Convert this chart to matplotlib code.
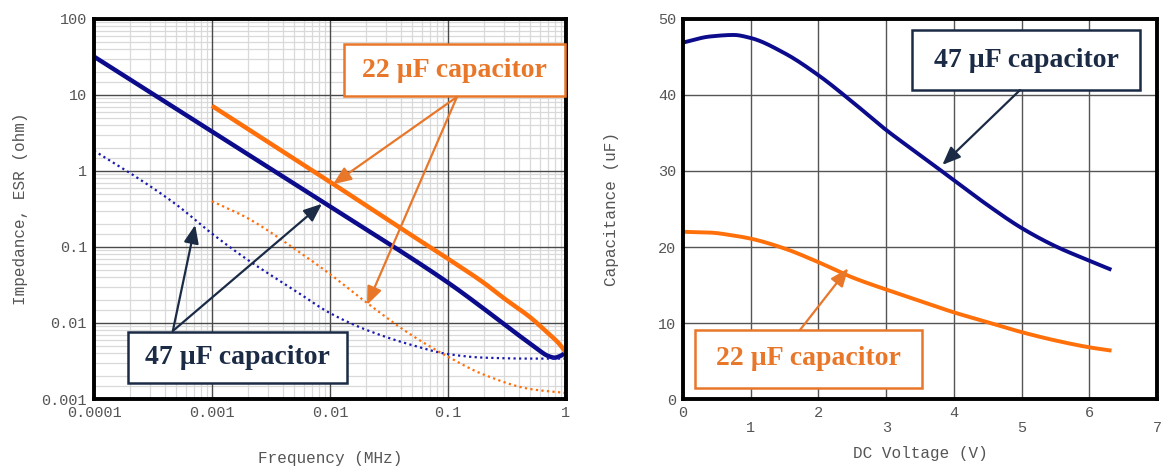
import matplotlib.pyplot as plt
from matplotlib.patches import Rectangle
from matplotlib.ticker import FixedLocator, NullFormatter
import numpy as np

# impedance / ESR vs frequency (MHz)
f_z47 = [0.0001, 0.001, 0.01, 0.1, 0.2, 0.24, 0.35, 0.5, 0.6, 0.7, 0.8, 0.9, 1.0]
z47 = [32, 3.3, 0.34, 0.034, 0.0155, 0.0125, 0.0080, 0.0053, 0.0043, 0.0037, 0.0035, 0.0037, 0.0041]

f_esr47 = [0.0001, 0.0002, 0.0005, 0.001, 0.002, 0.005, 0.01, 0.02, 0.05, 0.1, 0.2, 0.5, 1.0]
esr47 = [1.85, 0.95, 0.36, 0.15, 0.068, 0.027, 0.0135, 0.0082, 0.0051, 0.0039, 0.0035, 0.0034, 0.0034]

f_z22 = [0.001, 0.01, 0.04, 0.1, 0.2, 0.3, 0.5, 0.7, 0.85, 1.0]
z22 = [7.2, 0.72, 0.175, 0.07, 0.034, 0.021, 0.0118, 0.0074, 0.0056, 0.0041]

f_esr22 = [0.001, 0.002, 0.005, 0.01, 0.02, 0.05, 0.1, 0.2, 0.5, 1.0]
esr22 = [0.40, 0.24, 0.095, 0.044, 0.019, 0.0068, 0.0036, 0.0021, 0.00135, 0.0012]

# capacitance vs DC bias
volts = [0, 0.4, 0.75, 1, 1.5, 2, 2.5, 3, 3.5, 4, 4.5, 5, 5.5, 6, 6.3]
cap47 = [46.9, 47.7, 47.9, 47.5, 45.5, 42.6, 39.1, 35.4, 32.1, 28.8, 25.5, 22.5, 20.1, 18.2, 17.1]
cap22 = [22.0, 21.9, 21.5, 21.1, 19.8, 18.0, 16.0, 14.4, 12.9, 11.4, 10.1, 8.8, 7.7, 6.8, 6.4]

freq_ticks = [0.0001, 0.001, 0.01, 0.1, 1]
freq_labels = ["0.0001", "0.001", "0.01", "0.1", "1"]
ohm_ticks = [0.001, 0.01, 0.1, 1, 10, 100]
ohm_labels = ["0.001", "0.01", "0.1", "1", "10", "100"]

NAVY = "#0b0b8c"
ORANGE = "#ff6f0a"
TXT_OR = "#e8772a"
TXT_NAVY = "#1b2b45"
GREY = "#555555"

mono = "Liberation Mono"
serif = "Liberation Serif"


def pchip(x, y, n=400):
    # monotone cubic hermite through the read points
    x = np.asarray(x, float)
    y = np.asarray(y, float)
    h = np.diff(x)
    d = np.diff(y) / h
    m = np.zeros_like(y)
    for i in range(1, len(x) - 1):
        if d[i - 1] * d[i] > 0:
            w1 = 2 * h[i] + h[i - 1]
            w2 = h[i] + 2 * h[i - 1]
            m[i] = (w1 + w2) / (w1 / d[i - 1] + w2 / d[i])
    m[0] = d[0]
    m[-1] = d[-1]
    xs = np.linspace(x[0], x[-1], n)
    idx = np.clip(np.searchsorted(x, xs) - 1, 0, len(x) - 2)
    t = (xs - x[idx]) / h[idx]
    h00 = 2 * t**3 - 3 * t**2 + 1
    h10 = t**3 - 2 * t**2 + t
    h01 = -2 * t**3 + 3 * t**2
    h11 = t**3 - t**2
    ys = h00 * y[idx] + h10 * h[idx] * m[idx] + h01 * y[idx + 1] + h11 * h[idx] * m[idx + 1]
    return xs, ys


def curve_log(x, y):
    xs, ys = pchip(np.log10(x), np.log10(y))
    return 10 ** xs, 10 ** ys


def minor_log(lo, hi, subs):
    out = []
    for e in range(lo, hi):
        out += [s * 10.0**e for s in subs]
    return out


fig = plt.figure(figsize=(11.62, 4.69), dpi=100)
ax1 = fig.add_axes([94 / 1162, 1 - 399 / 469, 472 / 1162, 380 / 469])
ax2 = fig.add_axes([683 / 1162, 1 - 399 / 469, 474 / 1162, 380 / 469])

# ---- left: impedance ----
ax1.set_xscale("log")
ax1.set_yscale("log")

x, y = curve_log(f_z47, z47)
ax1.plot(x, y, color=NAVY, lw=3.2, solid_capstyle="butt", zorder=3)
x, y = curve_log(f_esr47, esr47)
ax1.plot(x, y, color="#1a1ab0", lw=1.6, ls=(0, (1, 1.5)), zorder=3)
x, y = curve_log(f_z22, z22)
ax1.plot(x, y, color=ORANGE, lw=3.2, solid_capstyle="butt", zorder=3)
x, y = curve_log(f_esr22, esr22)
ax1.plot(x, y, color=ORANGE, lw=1.6, ls=(0, (1, 1.5)), zorder=3)

ax1.set_xlim(0.0001, 1)
ax1.set_ylim(0.001, 100)
ax1.xaxis.set_major_locator(FixedLocator(freq_ticks))
ax1.set_xticklabels(freq_labels)
ax1.yaxis.set_major_locator(FixedLocator(ohm_ticks))
ax1.set_yticklabels(ohm_labels)
ax1.xaxis.set_minor_locator(FixedLocator(minor_log(-4, 0, range(2, 10))))
ax1.yaxis.set_minor_locator(FixedLocator(minor_log(-3, 2, [1.5, 2, 3, 4, 5, 6, 7, 8, 9])))
ax1.xaxis.set_minor_formatter(NullFormatter())
ax1.yaxis.set_minor_formatter(NullFormatter())
ax1.grid(which="minor", color="#d9d9d9", lw=0.9)
# major lines on top of the light ones
for t in freq_ticks:
    ax1.axvline(t, color="#4a4a4a", lw=1.0, zorder=1)
for t in ohm_ticks:
    ax1.axhline(t, color="#4a4a4a", lw=1.0, zorder=1)
ax1.set_xlabel("Frequency (MHz)", family=mono, fontsize=11.5, color=GREY, labelpad=22)
ax1.set_ylabel("Impedance, ESR (ohm)", family=mono, fontsize=11.5, color=GREY, labelpad=10)

# ---- right: DC bias ----
x, y = pchip(volts, cap47)
ax2.plot(x, y, color=NAVY, lw=2.8, zorder=3)
x, y = pchip(volts, cap22)
ax2.plot(x, y, color=ORANGE, lw=2.8, zorder=3)

ax2.set_xlim(0, 7)
ax2.set_ylim(0, 50)
ax2.xaxis.set_major_locator(FixedLocator([0, 2, 4, 6]))
ax2.xaxis.set_minor_locator(FixedLocator([1, 3, 5, 7]))
ax2.set_xticklabels(["0", "2", "4", "6"])
ax2.set_xticklabels(["1", "3", "5", "7"], minor=True)
ax2.set_yticks([0, 10, 20, 30, 40, 50])
ax2.grid(which="both", color="#555555", lw=1.0)
ax2.set_xlabel("DC Voltage (V)", family=mono, fontsize=11.5, color=GREY, labelpad=8)
ax2.set_ylabel("Capacitance (uF)", family=mono, fontsize=11.5, color=GREY, labelpad=28)

for ax in (ax1, ax2):
    ax.set_axisbelow(True)
    for s in ax.spines.values():
        s.set_linewidth(2.8)
        s.set_color("black")
        s.set_zorder(5)
    ax.tick_params(which="both", length=0, pad=5, labelsize=11, labelcolor=GREY)
    for lab in ax.get_xticklabels(which="both") + ax.get_yticklabels():
        lab.set_family(mono)
ax2.tick_params(axis="x", which="minor", pad=16)


def label_box(ax, x0, y0, x1, y1, text, color, tcolor):
    ax.add_patch(Rectangle((x0, y0), x1 - x0, y1 - y0, transform=ax.transAxes,
                           facecolor="white", edgecolor=color, lw=1.8,
                           zorder=6, clip_on=False))
    ax.text((x0 + x1) / 2, (y0 + y1) / 2, text, transform=ax.transAxes,
            ha="center", va="center", family=serif, weight="bold",
            fontsize=20, color=tcolor, zorder=7)


def arrow(ax, tail, head, color):
    ax.annotate("", xy=head, xycoords="data", xytext=tail, textcoords="axes fraction",
                arrowprops=dict(arrowstyle="-|>,head_length=1.1,head_width=0.45",
                                color=color, lw=1.6, shrinkA=0, shrinkB=0),
                zorder=6)


# left annotations
label_box(ax1, 0.530, 0.797, 0.998, 0.934, "22 µF capacitor", TXT_OR, TXT_OR)
arrow(ax1, (0.769, 0.795), (0.0106, 0.67), TXT_OR)
arrow(ax1, (0.769, 0.795), (0.0206, 0.0173), TXT_OR)
label_box(ax1, 0.072, 0.042, 0.536, 0.176, "47 µF capacitor", TXT_NAVY, TXT_NAVY)
arrow(ax1, (0.167, 0.179), (0.00072, 0.195), TXT_NAVY)
arrow(ax1, (0.167, 0.179), (0.00855, 0.37), TXT_NAVY)

# right annotations
label_box(ax2, 0.483, 0.813, 0.964, 0.971, "47 µF capacitor", TXT_NAVY, TXT_NAVY)
arrow(ax2, (0.711, 0.813), (3.83, 30.8), TXT_NAVY)
label_box(ax2, 0.025, 0.029, 0.504, 0.182, "22 µF capacitor", TXT_OR, TXT_OR)
arrow(ax2, (0.247, 0.182), (2.44, 17.2), TXT_OR)

fig.savefig("out.png", dpi=100)
